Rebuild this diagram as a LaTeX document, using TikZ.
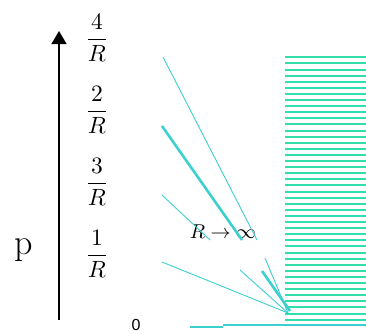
\documentclass[tikz,border=0pt]{standalone}
\usepackage{amsmath}
\usepackage{fontspec}
\usetikzlibrary{arrows.meta}
\newfontfamily\zerofont{Liberation Sans}
\begin{document}
\begin{tikzpicture}[x=1pt,y=-1pt,
  ray/.style={draw={rgb,255:red,60;green,208;blue,208},line width=0.9pt},
  thickray/.style={draw={rgb,255:red,60;green,208;blue,208},line width=2.6pt},
  baseline/.style={draw={rgb,255:red,60;green,208;blue,208},line width=1.3pt},
  hatch/.style={draw={rgb,255:red,50;green,222;blue,172},line width=2pt},
  frac/.style={inner sep=0pt},
  axisarrow/.style={draw=black,line width=1.3pt,-{Triangle[length=13pt,width=15pt]}}]
\useasboundingbox (0,0) rectangle (366,333);
% axis
\coordinate (A0) at (59,320);
\coordinate (A1) at (59,31);
\draw[axisarrow] (A0) -- (A1);
\node[inner sep=0pt,font=\fontsize{36}{40}\selectfont] (p) at (24,250) {p};
% fractions
\node[frac] (f4) at (97,38) {\scalebox{2.35}{$\dfrac{4}{R}$}};
\node[frac] (f2) at (97,110) {\scalebox{2.35}{$\dfrac{2}{R}$}};
\node[frac] (f3) at (97,182) {\scalebox{2.35}{$\dfrac{3}{R}$}};
\node[frac] (f1) at (97,254) {\scalebox{2.35}{$\dfrac{1}{R}$}};
\node[inner sep=0pt,font=\zerofont\fontsize{16}{18}\selectfont] (zero) at (136,325) {0};
\node[inner sep=0pt] (lim) at (223,232) {\scalebox{2.0}{$R\to\infty$}};
% hatched region
\foreach \i in {0,...,43}
  \draw[hatch] (285,{round(57.3+6.1*\i)}) -- (366,{round(57.3+6.1*\i)});
% rays
\coordinate (F) at (288,313);
\coordinate (u1) at (163,57);  \coordinate (v1) at (257,240);
\coordinate (u2) at (162,126); \coordinate (v2) at (242,240);
\coordinate (u3) at (162,195); \coordinate (v3) at (210,240);
\coordinate (w1) at (265,258);
\coordinate (w2) at (262,271); \coordinate (F2) at (290,311);
\coordinate (w3) at (240,270);
\coordinate (w4) at (162,262);
\draw[ray] (u1) -- (v1);
\draw[thickray] (u2) -- (v2);
\draw[ray] (u3) -- (v3);
\draw[ray] (w1) -- (F);
\draw[thickray] (w2) -- (F2);
\draw[ray] (w3) -- (F);
\draw[ray] (w4) -- (F);
% bottom line
\coordinate (b0) at (190,327); \coordinate (b1) at (223,327);
\coordinate (b2) at (223,325); \coordinate (b3) at (366,325);
\draw[baseline] (b0) -- (b1);
\draw[baseline] (b2) -- (b3);
\end{tikzpicture}
\end{document}
